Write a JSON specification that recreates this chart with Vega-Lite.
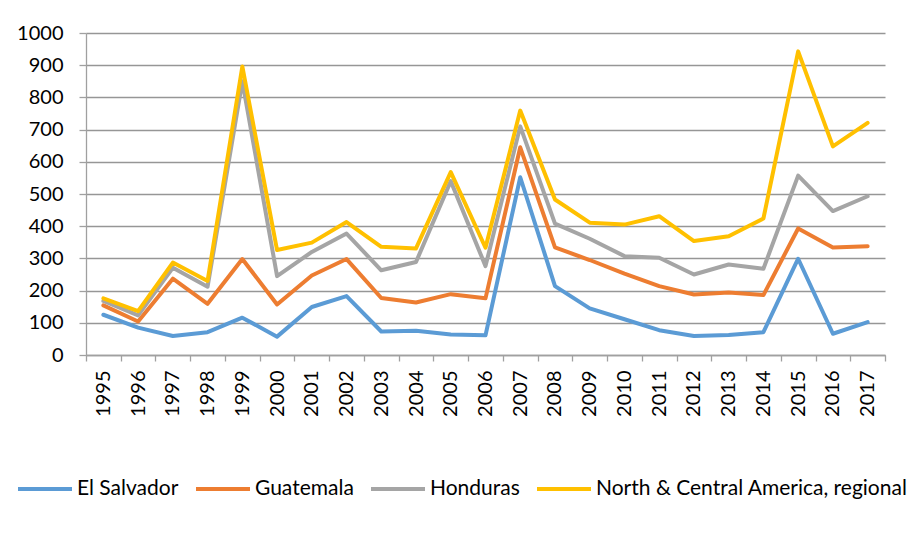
{
  "$schema": "https://vega.github.io/schema/vega-lite/v6.json",
  "width": 799,
  "height": 322,
  "autosize": {"type": "none"},
  "padding": {"left": 86, "top": 33, "right": 28, "bottom": 193},
  "background": "white",
  "config": {
    "view": {"stroke": null},
    "font": "Lato",
    "axis": {
      "labelFont": "Lato",
      "labelColor": "#000000",
      "domainColor": "#A0A0A0",
      "tickColor": "#A0A0A0",
      "gridColor": "#969696",
      "domainWidth": 1.3,
      "tickWidth": 1.3,
      "gridWidth": 1.3
    },
    "legend": {"labelFont": "Lato"}
  },
  "data": {
    "values": [
      {"year": "1995", "country": "El Salvador", "value": 125},
      {"year": "1996", "country": "El Salvador", "value": 85},
      {"year": "1997", "country": "El Salvador", "value": 59},
      {"year": "1998", "country": "El Salvador", "value": 71},
      {"year": "1999", "country": "El Salvador", "value": 116},
      {"year": "2000", "country": "El Salvador", "value": 57},
      {"year": "2001", "country": "El Salvador", "value": 149},
      {"year": "2002", "country": "El Salvador", "value": 183},
      {"year": "2003", "country": "El Salvador", "value": 73},
      {"year": "2004", "country": "El Salvador", "value": 75},
      {"year": "2005", "country": "El Salvador", "value": 64},
      {"year": "2006", "country": "El Salvador", "value": 61},
      {"year": "2007", "country": "El Salvador", "value": 552},
      {"year": "2008", "country": "El Salvador", "value": 214},
      {"year": "2009", "country": "El Salvador", "value": 145},
      {"year": "2010", "country": "El Salvador", "value": 111},
      {"year": "2011", "country": "El Salvador", "value": 77},
      {"year": "2012", "country": "El Salvador", "value": 59},
      {"year": "2013", "country": "El Salvador", "value": 62},
      {"year": "2014", "country": "El Salvador", "value": 71},
      {"year": "2015", "country": "El Salvador", "value": 299},
      {"year": "2016", "country": "El Salvador", "value": 66},
      {"year": "2017", "country": "El Salvador", "value": 102},
      {"year": "1995", "country": "Guatemala", "value": 154},
      {"year": "1996", "country": "Guatemala", "value": 104},
      {"year": "1997", "country": "Guatemala", "value": 237},
      {"year": "1998", "country": "Guatemala", "value": 159},
      {"year": "1999", "country": "Guatemala", "value": 298},
      {"year": "2000", "country": "Guatemala", "value": 157},
      {"year": "2001", "country": "Guatemala", "value": 247},
      {"year": "2002", "country": "Guatemala", "value": 298},
      {"year": "2003", "country": "Guatemala", "value": 177},
      {"year": "2004", "country": "Guatemala", "value": 163},
      {"year": "2005", "country": "Guatemala", "value": 189},
      {"year": "2006", "country": "Guatemala", "value": 176},
      {"year": "2007", "country": "Guatemala", "value": 645},
      {"year": "2008", "country": "Guatemala", "value": 334},
      {"year": "2009", "country": "Guatemala", "value": 295},
      {"year": "2010", "country": "Guatemala", "value": 253},
      {"year": "2011", "country": "Guatemala", "value": 214},
      {"year": "2012", "country": "Guatemala", "value": 188},
      {"year": "2013", "country": "Guatemala", "value": 194},
      {"year": "2014", "country": "Guatemala", "value": 186},
      {"year": "2015", "country": "Guatemala", "value": 393},
      {"year": "2016", "country": "Guatemala", "value": 334},
      {"year": "2017", "country": "Guatemala", "value": 338},
      {"year": "1995", "country": "Honduras", "value": 168},
      {"year": "1996", "country": "Honduras", "value": 123},
      {"year": "1997", "country": "Honduras", "value": 271},
      {"year": "1998", "country": "Honduras", "value": 212},
      {"year": "1999", "country": "Honduras", "value": 850},
      {"year": "2000", "country": "Honduras", "value": 245},
      {"year": "2001", "country": "Honduras", "value": 320},
      {"year": "2002", "country": "Honduras", "value": 377},
      {"year": "2003", "country": "Honduras", "value": 263},
      {"year": "2004", "country": "Honduras", "value": 289},
      {"year": "2005", "country": "Honduras", "value": 540},
      {"year": "2006", "country": "Honduras", "value": 276},
      {"year": "2007", "country": "Honduras", "value": 710},
      {"year": "2008", "country": "Honduras", "value": 408},
      {"year": "2009", "country": "Honduras", "value": 361},
      {"year": "2010", "country": "Honduras", "value": 307},
      {"year": "2011", "country": "Honduras", "value": 302},
      {"year": "2012", "country": "Honduras", "value": 250},
      {"year": "2013", "country": "Honduras", "value": 281},
      {"year": "2014", "country": "Honduras", "value": 268},
      {"year": "2015", "country": "Honduras", "value": 557},
      {"year": "2016", "country": "Honduras", "value": 447},
      {"year": "2017", "country": "Honduras", "value": 493},
      {"year": "1995", "country": "North & Central America, regional", "value": 176},
      {"year": "1996", "country": "North & Central America, regional", "value": 136},
      {"year": "1997", "country": "North & Central America, regional", "value": 287},
      {"year": "1998", "country": "North & Central America, regional", "value": 230},
      {"year": "1999", "country": "North & Central America, regional", "value": 896},
      {"year": "2000", "country": "North & Central America, regional", "value": 326},
      {"year": "2001", "country": "North & Central America, regional", "value": 349},
      {"year": "2002", "country": "North & Central America, regional", "value": 413},
      {"year": "2003", "country": "North & Central America, regional", "value": 336},
      {"year": "2004", "country": "North & Central America, regional", "value": 331},
      {"year": "2005", "country": "North & Central America, regional", "value": 568},
      {"year": "2006", "country": "North & Central America, regional", "value": 333},
      {"year": "2007", "country": "North & Central America, regional", "value": 759},
      {"year": "2008", "country": "North & Central America, regional", "value": 483},
      {"year": "2009", "country": "North & Central America, regional", "value": 411},
      {"year": "2010", "country": "North & Central America, regional", "value": 405},
      {"year": "2011", "country": "North & Central America, regional", "value": 431},
      {"year": "2012", "country": "North & Central America, regional", "value": 354},
      {"year": "2013", "country": "North & Central America, regional", "value": 369},
      {"year": "2014", "country": "North & Central America, regional", "value": 424},
      {"year": "2015", "country": "North & Central America, regional", "value": 943},
      {"year": "2016", "country": "North & Central America, regional", "value": 648},
      {"year": "2017", "country": "North & Central America, regional", "value": 721}
    ]
  },
  "mark": {"type": "line", "strokeWidth": 4, "strokeJoin": "round", "strokeCap": "round"},
  "encoding": {
    "x": {
      "field": "year",
      "type": "ordinal",
      "title": null,
      "scale": {"type": "band", "paddingInner": 0, "paddingOuter": 0},
      "axis": {
        "labelAngle": -90,
        "labelAlign": "right",
        "labelBaseline": "middle",
        "labelFontSize": 20,
        "labelPadding": 9,
        "tickSize": 6,
        "tickBand": "extent",
        "grid": false
      }
    },
    "y": {
      "field": "value",
      "type": "quantitative",
      "title": null,
      "scale": {"domain": [0, 1000], "nice": false},
      "axis": {
        "values": [0, 100, 200, 300, 400, 500, 600, 700, 800, 900, 1000],
        "format": "d",
        "labelFontSize": 20,
        "labelPadding": 16,
        "tickSize": 7,
        "grid": true
      }
    },
    "color": {
      "field": "country",
      "type": "nominal",
      "title": null,
      "scale": {
        "domain": ["El Salvador", "Guatemala", "Honduras", "North & Central America, regional"],
        "range": ["#5B9BD5", "#ED7D31", "#A5A5A5", "#FFC000"]
      },
      "legend": {
        "orient": "none",
        "legendX": -70,
        "legendY": 427,
        "direction": "horizontal",
        "columns": 4,
        "padding": 0,
        "columnPadding": 9,
        "symbolType": "stroke",
        "symbolSize": 2916,
        "symbolStrokeWidth": 4,
        "labelFontSize": 21,
        "labelOffset": 3,
        "labelColor": "#000000",
        "labelLimit": 400
      }
    }
  }
}
